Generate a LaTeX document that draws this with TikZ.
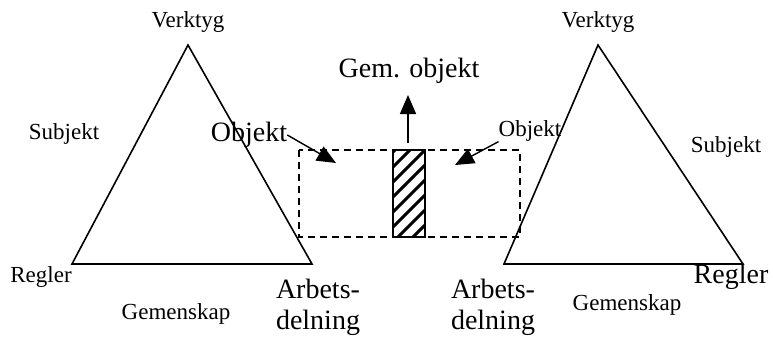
\documentclass[tikz,border=0pt]{standalone}
\usepackage{fontspec}
\setmainfont{Liberation Serif}
\usetikzlibrary{arrows.meta,calc,positioning}

\begin{document}
\begin{tikzpicture}[x=1pt,y=-1pt,
  small/.style={font=\fontsize{23}{26}\selectfont,inner sep=0pt},
  large/.style={font=\fontsize{28}{31}\selectfont,inner sep=0pt},
  tip/.style={-{Triangle[length=19pt,width=16pt]},line width=1.4pt}]
\useasboundingbox (0,0) rectangle (773,337);
% left triangle
\coordinate (L1) at (188,45);
\coordinate (L2) at (72,264);
\coordinate (L3) at (312,264);
\draw[line width=1.6pt,line join=miter] (L1) -- (L2) -- (L3) -- cycle;
% right triangle
\coordinate (R1) at (598,45);
\coordinate (R2) at (504,264);
\coordinate (R3) at (743,264);
\draw[line width=1.6pt,line join=miter] (R1) -- (R2) -- (R3) -- cycle;
% shared object
\draw[line width=1.4pt,dash pattern=on 7pt off 5pt] (299,150) rectangle (520,237);
\begin{scope}
\clip (393,150) rectangle (425,237);
\foreach \k in {0,...,8}
  \draw[line width=3pt] (385,160+15*\k) -- (435,110+15*\k);
\end{scope}
\draw[line width=1.6pt] (393,150) rectangle (425,237);
% labels
\node[small] (verkL) at (188,22) {Verktyg};
\node[small] (verkR) at (598,22) {Verktyg};
\node[small] (subjL) at (64,134) {Subjekt};
\node[small] (subjR) at (726,147) {Subjekt};
\node[small] (reglL) at (41,277) {Regler};
\node[large] (reglR) at (731,277) {Regler};
\node[small] (gemL) at (176,314) {Gemenskap};
\node[small] (gemR) at (627,305) {Gemenskap};
\node[large,align=left] (arbL) at (318,307) {Arbets-\\delning};
\node[large,align=left] (arbR) at (493,307) {Arbets-\\delning};
\node[large] (objL) at (249,135) {Objekt};
\node[small] (objR) at (530,131) {Objekt};
\node[large] (gem) at (409,71) {Gem. objekt};
% arrows
\coordinate (top) at (408,143);
\coordinate (gtop) at (408,95);
\coordinate (aL) at (336,163);
\coordinate (aR) at (455,165);
\draw[tip] (top) -- (gtop);
\draw[tip] (objL.east) -- (aL);
\draw[tip] (objR.south west) -- (aR);
\end{tikzpicture}
\end{document}
